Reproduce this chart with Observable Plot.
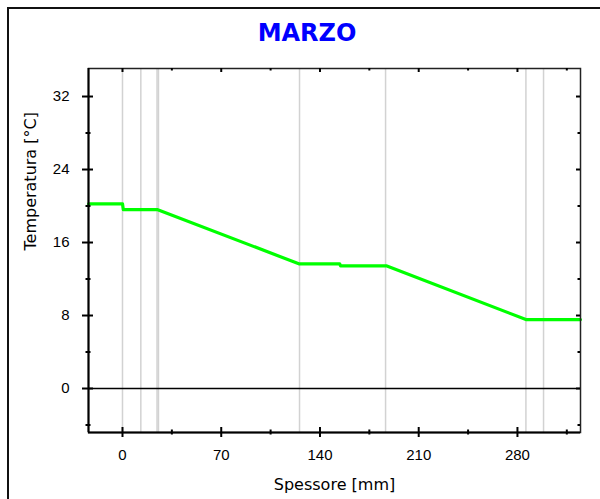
<!DOCTYPE html>
<html>
<head>
<meta charset="utf-8">
<script src="https://cdn.jsdelivr.net/npm/d3@7"></script>
<script src="https://cdn.jsdelivr.net/npm/@observablehq/plot@0.6"></script>
<style>
  html, body { margin: 0; padding: 0; background: #fff; }
  #wrap { position: relative; width: 600px; height: 499px; overflow: hidden; background: #fff; }
  #frame { position: absolute; left: 7px; top: 7px; width: 640px; height: 540px;
           border-left: 2px solid #111; border-top: 2px solid #111; box-sizing: border-box; }
  #title { position: absolute; left: 7px; width: 600px; top: 19px; text-align: center;
           font: bold 24px "DejaVu Sans", sans-serif; color: #0000ff; }
  #chart { position: absolute; left: 0; top: 0; }
</style>
</head>
<body>
<div id="wrap">
  <div id="frame"></div>
  <div id="title">MARZO</div>
  <div id="chart"></div>
</div>
<script>
// ---- data ----
const titleText = "MARZO";
const xLabel = "Spessore [mm]";
const yLabel = "Temperatura [°C]";
const xMajorTicks = [0, 70, 140, 210, 280];
const xMinorTicks = [35, 105, 175, 245, 315];
const yMajorTicks = [0, 8, 16, 24, 32];
const yMinorTicks = [-4, 4, 12, 20, 28];
// layer interfaces (mm)
const layerBoundaries = [0, 13, 24.5, 25.5, 125.5, 186.5, 286, 298.5];
// temperature profile through the wall
const profileX = [-24.1, 0, 0.6, 25, 125, 154, 154.6, 187, 286, 324.7];
const profileT = [20.24, 20.24, 19.6, 19.6, 13.67, 13.67, 13.45, 13.45, 7.56, 7.56];

const profile = profileX.map((x, i) => ({x, t: profileT[i]}));

const W = 600, H = 499;
const mL = 88, mR = 20, mT = 68, mB = 67;
const innerH = H - mT - mB, innerW = W - mL - mR;
const font = "DejaVu Sans, sans-serif";
const tickFont = "Liberation Sans, Arial, sans-serif";

const chart = Plot.plot({
  width: W, height: H,
  marginLeft: mL, marginRight: mR, marginTop: mT, marginBottom: mB,
  style: {fontFamily: font, background: "transparent", color: "#000"},
  x: {domain: [-24.1, 324.7]},
  y: {domain: [-4.82, 35.07]},
  marks: [
    Plot.ruleX(layerBoundaries, {x: d => d, stroke: "#d2d2d2", strokeWidth: 1.5}),
    Plot.ruleY([0], {y: d => d, stroke: "#000", strokeWidth: 1.5}),
    Plot.line(profile, {x: "x", y: "t", stroke: "#00ff00", strokeWidth: 3.2}),
    Plot.frame({stroke: "#222", strokeWidth: 1.5}),
    // bold left and bottom axis lines
    Plot.ruleX([-24.1], {x: d => d, stroke: "#000", strokeWidth: 2}),
    Plot.ruleY([-4.82], {y: d => d, stroke: "#000", strokeWidth: 2}),
    // bottom crossing ticks
    Plot.tickX(xMajorTicks, {x: d => d, insetTop: innerH - 5, insetBottom: -5, stroke: "#000", strokeWidth: 2}),
    Plot.tickX(xMinorTicks, {x: d => d, insetTop: innerH - 2.5, insetBottom: -2.5, stroke: "#000", strokeWidth: 2}),
    // top inward ticks
    Plot.tickX(xMajorTicks, {x: d => d, insetTop: 0, insetBottom: innerH - 4, stroke: "#000", strokeWidth: 2}),
    Plot.tickX(xMinorTicks, {x: d => d, insetTop: 0, insetBottom: innerH - 2.5, stroke: "#000", strokeWidth: 2}),
    // left crossing ticks
    Plot.tickY(yMajorTicks, {y: d => d, insetLeft: -6, insetRight: innerW - 5, stroke: "#000", strokeWidth: 2}),
    Plot.tickY(yMinorTicks, {y: d => d, insetLeft: -2.5, insetRight: innerW - 2.5, stroke: "#000", strokeWidth: 2}),
    // right inward ticks
    Plot.tickY(yMajorTicks, {y: d => d, insetLeft: innerW - 4, insetRight: 0, stroke: "#000", strokeWidth: 2}),
    Plot.tickY(yMinorTicks, {y: d => d, insetLeft: innerW - 2.5, insetRight: 0, stroke: "#000", strokeWidth: 2}),
    Plot.axisX({ticks: xMajorTicks, tickSize: 0, tickPadding: 17, fontSize: 15, fontFamily: tickFont, label: null, tickFormat: d => String(d)}),
    Plot.axisY({ticks: yMajorTicks, tickSize: 0, tickPadding: 19, fontSize: 15, fontFamily: tickFont, label: null, tickFormat: d => String(d)}),
    Plot.text([xLabel], {text: d => d, frameAnchor: "bottom", dy: 57, fontSize: 16, fill: "#000"}),
    Plot.text([yLabel], {text: d => d, frameAnchor: "left", dx: -58, rotate: -90, fontSize: 16, fill: "#000"})
  ]
});
document.getElementById("chart").appendChild(chart);
document.getElementById("title").textContent = titleText;
</script>
</body>
</html>
